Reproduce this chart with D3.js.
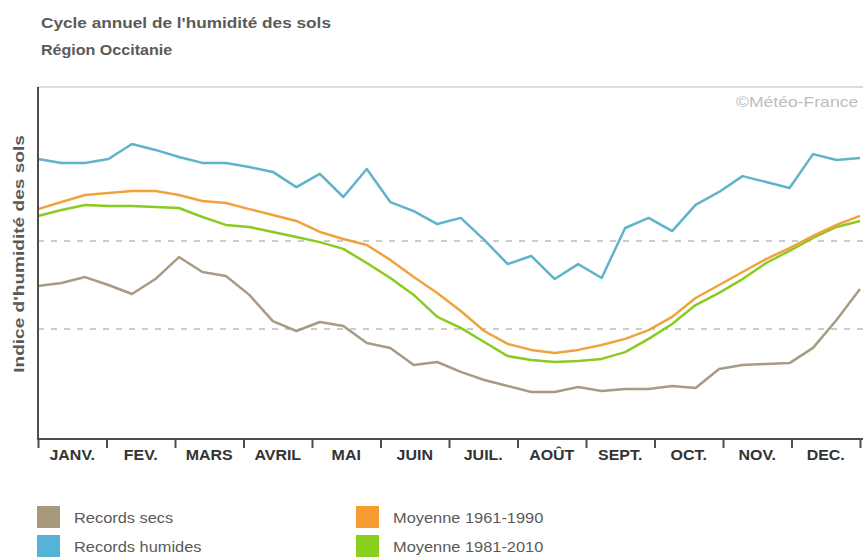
<!DOCTYPE html>
<html>
<head>
<meta charset="utf-8">
<script src="https://cdn.jsdelivr.net/npm/d3@7"></script>
<style>
  body { margin: 0; background: #fff; }
  svg { font-family: "Liberation Sans", Arial, sans-serif; }
</style>
</head>
<body>
<svg id="graphique" width="863" height="557"></svg>
<script>
// mois (axe du bas)
var mois = ["JANV.", "FEV.", "MARS", "AVRIL", "MAI", "JUIN", "JUIL.", "AOÛT", "SEPT.", "OCT.", "NOV.", "DEC."];

// 36 decades, indice d'humidite (unites arbitraires)
var recordsSecs = [0.695, 0.709, 0.736, 0.700, 0.659, 0.727, 0.827, 0.759, 0.741, 0.655, 0.536, 0.491,
  0.532, 0.514, 0.436, 0.414, 0.336, 0.350, 0.305, 0.268, 0.241, 0.214, 0.214, 0.236,
  0.218, 0.227, 0.227, 0.241, 0.232, 0.318, 0.336, 0.341, 0.345, 0.414, 0.541, 0.682];
var recordsHumides = [1.273, 1.255, 1.255, 1.273, 1.341, 1.314, 1.282, 1.255, 1.255, 1.236, 1.214, 1.145,
  1.205, 1.100, 1.227, 1.077, 1.036, 0.977, 1.005, 0.905, 0.795, 0.832, 0.727, 0.795,
  0.732, 0.959, 1.005, 0.945, 1.064, 1.123, 1.195, 1.168, 1.141, 1.295, 1.268, 1.277];
var moyenne6190 = [1.045, 1.077, 1.109, 1.118, 1.127, 1.127, 1.109, 1.082, 1.073, 1.045, 1.018, 0.991,
  0.941, 0.909, 0.882, 0.814, 0.736, 0.664, 0.582, 0.491, 0.432, 0.405, 0.391, 0.405,
  0.427, 0.455, 0.495, 0.555, 0.641, 0.700, 0.759, 0.818, 0.868, 0.923, 0.973, 1.014];
var moyenne8110 = [1.014, 1.041, 1.064, 1.059, 1.059, 1.055, 1.050, 1.009, 0.973, 0.964, 0.941, 0.918,
  0.895, 0.864, 0.800, 0.732, 0.655, 0.555, 0.505, 0.441, 0.377, 0.359, 0.350, 0.355,
  0.364, 0.395, 0.455, 0.523, 0.609, 0.664, 0.727, 0.800, 0.855, 0.914, 0.964, 0.991];

// lignes pointillees
var reperes = [0.5, 0.9];

var series = [
  { nom: "Records secs", valeurs: recordsSecs, couleur: "#a89b84" },
  { nom: "Records humides", valeurs: recordsHumides, couleur: "#5fb3cb" },
  { nom: "Moyenne 1981-2010", valeurs: moyenne8110, couleur: "#8acb23" },
  { nom: "Moyenne 1961-1990", valeurs: moyenne6190, couleur: "#f2a23c" }
];

var graphique = d3.select("#graphique");
var GAUCHE = 38, DROITE = 860, HAUT = 87, BAS = 439;

var xScale = d3.scaleLinear().domain([0, recordsSecs.length - 1]).range([GAUCHE, DROITE]);
var xMois = d3.scaleLinear().domain([0, 12]).range([GAUCHE, DROITE]);
var yScale = d3.scaleLinear().domain([0, 1.6]).range([BAS, HAUT]);

// le texte de l'original est un peu etire en largeur
function etirer(sel, k){
  sel.each(function(){
    var w = this.getComputedTextLength();
    d3.select(this).attr("textLength", w * k).attr("lengthAdjust", "spacingAndGlyphs");
  });
}

// titres
graphique.append("text").attr("x", 41).attr("y", 28)
  .attr("font-size", 15.5).attr("font-weight", "bold").attr("fill", "#5a5a5a")
  .text("Cycle annuel de l'humidité des sols").call(etirer, 1.11);
graphique.append("text").attr("x", 41).attr("y", 55)
  .attr("font-size", 15).attr("font-weight", "bold").attr("fill", "#5a5a5a")
  .text("Région Occitanie").call(etirer, 1.07);

// cadre haut
graphique.append("line")
  .attr("x1", GAUCHE).attr("x2", 863).attr("y1", HAUT).attr("y2", HAUT)
  .attr("stroke", "#dcdcdc").attr("stroke-width", 2);

graphique.append("text").attr("x", 736).attr("y", 107)
  .attr("font-size", 15).attr("fill", "#bdbdbd")
  .text("©Météo-France").call(etirer, 1.17);

// reperes pointilles
graphique.selectAll(".repere").data(reperes).enter().append("line")
  .attr("class", "repere")
  .attr("x1", GAUCHE).attr("x2", 863)
  .attr("y1", function(d){ return yScale(d); })
  .attr("y2", function(d){ return yScale(d); })
  .attr("stroke", "#bcbcbc").attr("stroke-width", 1.5)
  .attr("stroke-dasharray", "6,7");

// courbes
var ligne = d3.line()
  .x(function(d, i){ return xScale(i); })
  .y(function(d){ return yScale(d); });

series.forEach(function(s){
  graphique.append("path")
    .attr("d", ligne(s.valeurs))
    .attr("fill", "none")
    .attr("stroke", s.couleur)
    .attr("stroke-width", 2.5)
    .attr("stroke-linejoin", "round");
});

// axes
var xAxis = d3.axisBottom(xMois).tickValues(d3.range(13)).tickFormat("").tickSize(9).tickSizeOuter(0);
var gx = graphique.append("g")
  .attr("transform", "translate(0," + BAS + ")")
  .call(xAxis);
gx.select(".domain").attr("stroke", "#4d4d4d").attr("stroke-width", 2)
  .attr("d", "M" + GAUCHE + ",0H863");
gx.selectAll(".tick line").attr("stroke", "#4d4d4d").attr("stroke-width", 2);

graphique.selectAll(".mois").data(mois).enter().append("text")
  .attr("class", "mois")
  .attr("x", function(d, i){ return xMois(i + 0.5); })
  .attr("y", 460)
  .attr("text-anchor", "middle")
  .attr("font-size", 14.5).attr("font-weight", "bold").attr("fill", "#333")
  .text(function(d){ return d; })
  .call(etirer, 1.1);

graphique.append("line")
  .attr("x1", GAUCHE).attr("x2", GAUCHE).attr("y1", HAUT).attr("y2", BAS + 1)
  .attr("stroke", "#4d4d4d").attr("stroke-width", 2);

graphique.append("text")
  .attr("transform", "translate(24,254) rotate(-90)")
  .attr("text-anchor", "middle")
  .attr("font-size", 15.5).attr("font-weight", "bold").attr("fill", "#5a5a5a")
  .text("Indice d'humidité des sols")
  .call(etirer, 1.23);

// legende
var legende = [
  { nom: "Records secs", couleur: "#a8997c", x: 37, y: 506 },
  { nom: "Records humides", couleur: "#55b4d6", x: 37, y: 535 },
  { nom: "Moyenne 1961-1990", couleur: "#f49d2e", x: 356, y: 506 },
  { nom: "Moyenne 1981-2010", couleur: "#88d21a", x: 356, y: 535 }
];
legende.forEach(function(l){
  graphique.append("rect")
    .attr("x", l.x).attr("y", l.y).attr("width", 23).attr("height", 22)
    .attr("fill", l.couleur);
  graphique.append("text")
    .attr("x", l.x + 37).attr("y", l.y + 17)
    .attr("font-size", 14.5).attr("fill", "#5a5a5a")
    .text(l.nom)
    .call(etirer, 1.13);
});
</script>
</body>
</html>
